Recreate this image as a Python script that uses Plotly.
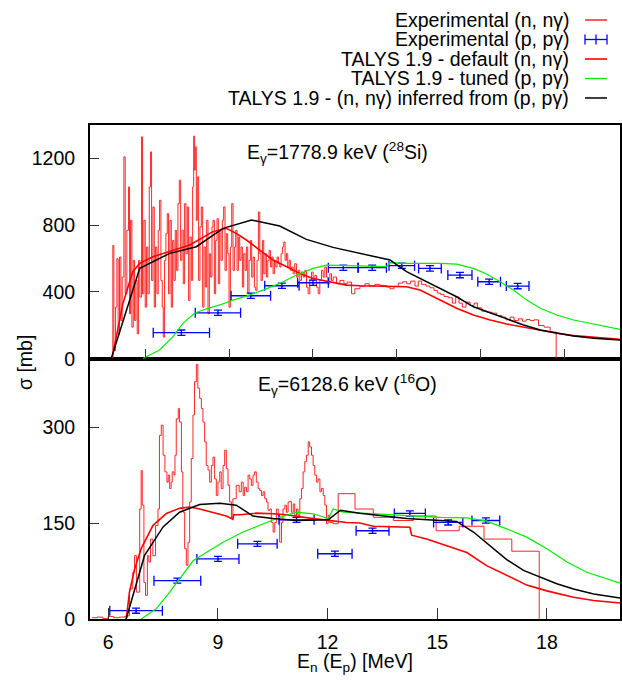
import plotly.graph_objects as go

# ---------------- data: top panel (E_gamma = 1778.9 keV, 28Si) ----------------
top_exp_E = [6.08, 6.125, 6.153, 6.20, 6.235, 6.27, 6.308, 6.345, 6.38, 6.427, 6.463, 6.509, 6.555, 6.582,
             6.61, 6.646, 6.683, 6.719, 6.756, 6.792, 6.829, 6.865, 6.911, 6.938, 6.975, 7.011, 7.048, 7.084,
             7.121, 7.157, 7.185, 7.221, 7.258, 7.294, 7.331, 7.367, 7.404, 7.44, 7.477, 7.504, 7.541, 7.577,
             7.614, 7.65, 7.687, 7.724, 7.76, 7.797, 7.833, 7.87, 7.906, 7.943, 7.98, 8.016, 8.052, 8.089,
             8.125, 8.162, 8.198, 8.235, 8.272, 8.308, 8.336, 8.363, 8.381, 8.408, 8.436, 8.472, 8.509, 8.545,
             8.582, 8.619, 8.655, 8.692, 8.728, 8.765, 8.801, 8.838, 8.865, 8.902, 8.938, 8.975, 9.011, 9.048,
             9.084, 9.121, 9.157, 9.194, 9.23, 9.267, 9.304, 9.34, 9.377, 9.413, 9.45, 9.486, 9.523, 9.559,
             9.596, 9.632, 9.669, 9.705, 9.742, 9.778, 9.815, 9.851, 9.888, 9.924, 9.961, 9.997, 10.034, 10.07,
             10.107, 10.144, 10.18, 10.217, 10.253, 10.29, 10.326, 10.363, 10.4, 10.436, 10.473, 10.509, 10.545,
             10.582, 10.618, 10.655, 10.691, 10.728, 10.764, 10.801, 10.837, 10.874, 10.91, 10.947, 10.983,
             11.02, 11.057, 11.102, 11.148, 11.194, 11.24, 11.285, 11.331, 11.377, 11.422, 11.468, 11.514,
             11.559, 11.605, 11.651, 11.696, 11.742, 11.787, 11.833, 11.879, 11.925, 11.97, 12.016, 12.062,
             12.107, 12.153, 12.244,
             12.336, 12.446, 12.537, 12.656, 12.747, 12.884, 13.021, 13.14, 13.295, 13.432, 13.615, 13.706,
             13.815, 13.934, 14.053, 14.163, 14.272, 14.391, 14.482, 14.573, 14.692, 14.802, 14.911, 15.003,
             15.094, 15.185, 15.304, 15.414, 15.505, 15.596, 15.688, 15.788, 15.898, 16.007, 16.098, 16.217,
             16.354, 16.491, 16.628, 16.765, 16.884, 16.993, 17.103, 17.222, 17.331, 17.432, 17.541, 17.651,
             17.77, 17.925, 18.089, 18.254]
top_exp_v = [5, 679, 49, 309, 599, 149, 609, 229, 489, 1209, 389, 769, 1029, 269,
             829, 189, 589, 229, 469, 149, 589, 369, 1329, 389, 829, 309, 669, 389,
             1029, 1239, 469, 909, 309, 669, 389, 769, 949, 469, 309, 129, 589, 749,
             869, 389, 829, 309, 709, 469, 769, 529, 929, 1069, 589, 769, 449, 929,
             629, 909, 349, 729, 469, 1029, 1333, 1129, 1269, 829, 1089, 469, 789, 909,
             309, 669, 429, 829, 269, 629, 489, 789, 829, 389, 709, 839, 449, 769,
             589, 829, 909, 529, 749, 629, 309, 669, 929, 529, 669, 769, 529, 729,
             589, 669, 429, 629, 529, 669, 389, 589, 709, 489, 609, 429, 409, 589,
             879, 629, 469, 709, 509, 629, 489, 589, 649, 549, 609, 509, 589,
             549, 609, 569, 549, 629, 669, 699, 589, 629, 549, 589, 529,
             549, 509, 569, 489, 529, 469, 519, 489, 529, 429, 389, 469,
             519, 469, 499, 429, 389, 469, 529, 489, 549, 489, 449, 509,
             469, 489, 449,
             469, 449, 459, 389, 419, 433, 449, 435, 445, 439, 429, 419,
             433, 453, 461, 449, 465, 435, 465, 445, 435, 425, 409, 393,
             385, 373, 365, 333, 369, 333, 309, 339, 319, 333, 305, 285,
             279, 273, 259, 249, 233, 249, 229, 239, 225, 235, 229, 233,
             199, 189, 159, 0]

top_pp_E = [8.0, 9.0, 9.9, 10.75, 11.6, 12.43, 13.22, 14.03, 14.8, 15.62, 16.42, 17.2]
top_pp_v = [156, 275, 377, 437, 455, 545, 545, 557, 541, 501, 461, 435]
top_pp_dE = [0.77, 0.62, 0.54, 0.47, 0.42, 0.41, 0.39, 0.35, 0.31, 0.33, 0.31, 0.31]
top_pp_dv = [16] * 12

top_def_E = [6.1, 6.4, 6.67, 6.86, 7.22, 7.68, 8.23, 8.86, 9.23, 9.5, 9.78, 10.14, 10.51, 10.88, 11.24,
             11.6, 12.52, 12.88, 13.25, 14.16, 14.53, 15.08, 15.53, 15.99, 16.45, 16.9, 17.36, 17.82,
             18.27, 18.73, 19.28, 20.0]
top_def_v = [0, 330, 521, 571, 611, 641, 681, 761, 781, 751, 711, 651, 591, 551, 511,
             481, 441, 437, 435, 431, 411, 351, 302, 262, 232, 208, 188, 168,
             152, 138, 128, 116]

top_tun_E = [6.95, 7.04, 7.4, 7.77, 8.04, 8.36, 8.59, 9.05, 9.41, 9.78, 10.23, 10.69, 11.15, 11.6, 11.97,
             12.52, 13.61, 13.71, 14.16, 15.08, 15.53, 15.99, 16.35, 16.72, 17.08, 17.45, 17.82, 18.27,
             18.73, 19.28, 19.64, 20.0]
top_tun_v = [0, 12, 52, 132, 212, 272, 292, 322, 351, 375, 411, 451, 501, 541, 561,
             557, 551, 575, 571, 571, 567, 541, 507, 461, 411, 351, 302, 262,
             232, 208, 192, 176]

top_inf_E = [6.08, 6.86, 7.68, 8.41, 9.14, 9.92, 10.69, 11.42, 12.15, 12.88, 13.71, 14.16, 14.62, 15.08,
             15.53, 15.99, 16.45, 16.9, 17.36, 17.82, 18.27, 18.73, 19.28, 20.0]
top_inf_v = [0, 541, 631, 671, 781, 831, 795, 715, 667, 631, 591, 521, 471, 421,
             371, 311, 275, 236, 202, 172, 152, 136, 122, 112]

# ---------------- data: bottom panel (E_gamma = 6128.6 keV, 16O) ----------------
bot_exp_E = [5.55, 5.7, 5.85, 6.0, 6.15, 6.3, 6.45,
             6.49, 6.58, 6.67, 6.72, 6.77, 6.86, 6.90, 6.93, 6.975, 7.02, 7.07, 7.11, 7.157, 7.22, 7.294,
             7.36, 7.40, 7.45, 7.50, 7.55, 7.605, 7.64, 7.68, 7.72, 7.75, 7.80, 7.825, 7.86, 7.915, 7.95,
             8.00, 8.04, 8.09, 8.135, 8.18, 8.226, 8.27, 8.317, 8.36, 8.41, 8.45, 8.50, 8.546, 8.59, 8.637,
             8.68, 8.73, 8.774, 8.82, 8.865, 8.91, 8.956, 9.00, 9.05, 9.09, 9.14, 9.185, 9.23, 9.276, 9.32,
             9.37, 9.41, 9.50, 9.58, 9.64, 9.69, 9.73, 9.78, 9.825, 9.87, 9.915, 9.96, 10.00, 10.05, 10.10,
             10.144, 10.19, 10.236, 10.28, 10.33, 10.37, 10.42, 10.46, 10.51, 10.555, 10.60, 10.65, 10.69,
             10.74, 10.78, 10.83, 10.874, 10.92, 10.97, 11.01, 11.06, 11.10, 11.15, 11.19, 11.24, 11.285,
             11.33, 11.377, 11.42, 11.47, 11.51, 11.56, 11.605, 11.65, 11.70, 11.74, 11.79, 11.83, 11.88,
             11.925, 11.97, 12.016, 12.06, 12.15, 12.29, 12.75, 13.25, 13.80, 14.35, 14.97, 15.60, 16.28,
             17.04, 17.79]
bot_exp_v = [2, 3, 1, 4, 2, 3, 4,
             5, 47, 73, 99, 42, 172, 232, 178, 57, 37, 99, 89, 125, 99, 146,
             172, 287, 303, 256, 230, 214, 225, 204, 214, 230, 225, 256, 313, 329, 308,
             230, 167, 110, 84, 120, 183, 251, 319, 371, 398, 361, 345, 329, 308, 277,
             240, 233, 214, 240, 253, 219, 193, 214, 230, 204, 240, 264, 235, 209, 183,
             157, 188, 209, 199, 214, 193, 206, 199, 225, 219, 209, 225, 230, 214, 204,
             201, 193, 199, 188, 183, 170, 172, 151, 136, 151, 172, 162, 120,
             151, 172, 178, 167, 183, 184, 167, 180, 162, 172, 162, 188, 204,
             230, 246, 256, 277, 269, 256, 240, 225, 214, 219, 199, 204, 193,
             178, 149, 162, 151, 149, 196, 172, 159, 154, 161, 138, 145, 125,
             106, 0]

bot_pp_E = [6.76, 7.89, 9.0, 10.08, 11.15, 12.2, 13.23, 14.25, 15.30, 16.33]
bot_pp_v = [13, 60, 94, 117.5, 155, 102, 138, 165, 151, 154]
bot_pp_dE = [0.72, 0.64, 0.575, 0.54, 0.48, 0.47, 0.45, 0.425, 0.40, 0.38]
bot_pp_dv = [4] * 10

bot_def_E = [6.49, 6.58, 6.72, 6.90, 7.22, 7.59, 7.95, 8.23, 8.50, 8.87, 9.23, 9.41, 9.43, 9.60, 10.05,
             10.51, 10.87, 11.61, 12.52, 12.88, 13.25, 14.25, 14.30, 14.71, 15.26, 15.81, 16.35, 16.9,
             17.45, 18.0, 18.73, 19.28, 20.0]
bot_def_v = [0, 42, 78, 110, 146, 165, 173, 175, 172, 167, 161, 156, 163, 163, 165.5,
             164.5, 163, 157, 151, 150, 145, 143.6, 131, 125, 115, 104, 83.5, 68,
             53, 44, 34, 29, 25]

bot_tun_E = [6.9, 7.31, 7.68, 7.95, 8.32, 8.68, 9.14, 9.69, 10.14, 10.69, 11.15, 11.61, 12.02, 12.15,
             12.43, 13.25, 14.16, 15.08, 15.81, 16.35, 16.9, 17.45, 18.0, 18.55, 19.09, 19.64, 20.0]
bot_tun_v = [0, 16, 42, 63, 91, 104, 120, 136, 146, 159, 167, 164.5, 157, 172,
             167, 164.5, 161, 159, 158, 153, 141, 128, 110, 89, 73, 63, 56]

bot_inf_E = [6.49, 6.72, 6.99, 7.5, 7.95, 8.5, 9.05, 9.5, 9.96, 10.51, 11.15, 12.02, 12.35, 12.88,
             13.25, 14.16, 15.08, 15.53, 15.99, 16.45, 16.9, 17.36, 17.82, 18.27, 18.73, 19.28, 20.0]
bot_inf_v = [0, 47, 99, 144, 167, 179, 181, 178, 161, 157, 154, 155, 170, 165.5,
             163, 157, 154, 152.5, 136, 114, 93, 76, 65, 55, 47, 39, 33]

x_ticks = [6, 9, 12, 15, 18]
top_x_minor = [7.02, 9.31, 11.60, 13.89, 16.18, 18.47]
top_y_ticks = [0, 400, 800, 1200]
bot_y_ticks = [0, 150, 300]

legend_labels = ["Experimental (n, nγ)", "Experimental (p, pγ)", "TALYS 1.9 - default (n, nγ)",
                 "TALYS 1.9 - tuned (p, pγ)", "TALYS 1.9 - (n, nγ) inferred from (p, pγ)"]

# ---------------- styling ----------------
RED = "#ff0000"
GREEN = "#00ee00"
BLUE = "#0000ff"
BLACK = "#000000"
FONT = "Liberation Sans, Arial, sans-serif"
FS = 19.5

W, H = 622, 680
ML, MR, MT, MB = 90, 2, 125, 61
PW, PH = W - ML - MR, H - MT - MB
split = (619 - 358.7) / PH


def px2x(px):
    return (px - ML) / PW


def py2y(py):
    return (H - MB - py) / PH


fig = go.Figure()


def add_panel(xa, ya, exp_E, exp_v, pp_E, pp_v, pp_dE, pp_dv, d_E, d_v, t_E, t_v, i_E, i_v, capy):
    fig.add_trace(go.Scatter(x=exp_E, y=exp_v, mode="lines", line=dict(color=RED, width=1, shape="hv"),
                             opacity=0.85, xaxis=xa, yaxis=ya, hoverinfo="skip"))
    fig.add_trace(go.Scatter(x=pp_E, y=pp_v, mode="markers", marker=dict(color=BLUE, size=2),
                             error_x=dict(type="data", array=pp_dE, color=BLUE, thickness=1.3, width=5),
                             error_y=dict(type="data", array=pp_dv, color=BLUE, thickness=1.3, width=capy),
                             xaxis=xa, yaxis=ya, hoverinfo="skip"))
    fig.add_trace(go.Scatter(x=d_E, y=d_v, mode="lines", line=dict(color=RED, width=1.6),
                             xaxis=xa, yaxis=ya, hoverinfo="skip"))
    fig.add_trace(go.Scatter(x=t_E, y=t_v, mode="lines", line=dict(color=GREEN, width=1.2),
                             xaxis=xa, yaxis=ya, hoverinfo="skip"))
    fig.add_trace(go.Scatter(x=i_E, y=i_v, mode="lines", line=dict(color=BLACK, width=1.5),
                             xaxis=xa, yaxis=ya, hoverinfo="skip"))


add_panel("x2", "y2", top_exp_E, top_exp_v, top_pp_E, top_pp_v, top_pp_dE, top_pp_dv,
          top_def_E, top_def_v, top_tun_E, top_tun_v, top_inf_E, top_inf_v, 4)
add_panel("x", "y", bot_exp_E, bot_exp_v, bot_pp_E, bot_pp_v, bot_pp_dE, bot_pp_dv,
          bot_def_E, bot_def_v, bot_tun_E, bot_tun_v, bot_inf_E, bot_inf_v, 4)

axis_common = dict(showline=True, linecolor="black", linewidth=2, mirror=True, ticks="inside",
                   tickcolor="#333333", tickwidth=1, showgrid=False, zeroline=False,
                   tickfont=dict(family=FONT, size=FS, color="black"))

fig.update_layout(
    width=W, height=H,
    margin=dict(l=ML, r=MR, t=MT, b=MB, autoexpand=False),
    paper_bgcolor="white", plot_bgcolor="white",
    showlegend=False,
    font=dict(family=FONT, size=FS, color="black"),
    xaxis=dict(domain=[0, 1], range=[5.5, 20], anchor="y", tickvals=x_ticks, ticklen=11,
               ticklabelstandoff=5, **axis_common),
    yaxis=dict(domain=[0, split], range=[0, 407], anchor="x", tickvals=bot_y_ticks, ticklen=9,
               ticklabelstandoff=9, **axis_common),
    xaxis2=dict(domain=[0, 1], range=[5.5, 20], anchor="y2", tickvals=top_x_minor, ticklen=10,
                showticklabels=False, **axis_common),
    yaxis2=dict(domain=[split, 1], range=[0, 1400], anchor="x2", tickvals=top_y_ticks, ticklen=9,
                ticklabelstandoff=9, **axis_common),
)

annotations = []
shapes = []
# axis titles
annotations.append(dict(text="E<sub>n</sub> (E<sub>p</sub>) [MeV]", xref="paper", yref="paper",
                        x=px2x(355), y=py2y(662), xanchor="center", yanchor="middle", showarrow=False,
                        font=dict(family=FONT, size=FS)))
annotations.append(dict(text="σ [mb]", xref="paper", yref="paper", x=px2x(25), y=py2y(363),
                        xanchor="center", yanchor="middle", textangle=-90, showarrow=False,
                        font=dict(family=FONT, size=FS)))
# panel labels
annotations.append(dict(text="E<sub>γ</sub>=1778.9 keV (<sup>28</sup>Si)", xref="paper", yref="paper",
                        x=px2x(245), y=py2y(152), xanchor="left", yanchor="middle", showarrow=False,
                        font=dict(family=FONT, size=FS)))
annotations.append(dict(text="E<sub>γ</sub>=6128.6 keV (<sup>16</sup>O)", xref="paper", yref="paper",
                        x=px2x(256), y=py2y(384), xanchor="left", yanchor="middle", showarrow=False,
                        font=dict(family=FONT, size=FS)))

# manual legend (text right-aligned, sample to the right)
rows = [20, 39.5, 59, 78.5, 98]
colors = [RED, BLUE, RED, GREEN, BLACK]
widths = [1, 1.3, 1.6, 1.2, 1.5]
for lbl, py, c, w in zip(legend_labels, rows, colors, widths):
    annotations.append(dict(text=lbl, xref="paper", yref="paper", x=px2x(571), y=py2y(py),
                            xanchor="right", yanchor="middle", showarrow=False,
                            font=dict(family=FONT, size=FS)))
    shapes.append(dict(type="line", xref="paper", yref="paper", x0=px2x(585), x1=px2x(607),
                       y0=py2y(py), y1=py2y(py), line=dict(color=c, width=max(w, 1.3))))
# error-bar legend sample ticks
for pxc in (585, 596, 607):
    shapes.append(dict(type="line", xref="paper", yref="paper", x0=px2x(pxc), x1=px2x(pxc),
                       y0=py2y(rows[1] - 5), y1=py2y(rows[1] + 5), line=dict(color=BLUE, width=1.3)))

fig.update_layout(annotations=annotations, shapes=shapes)

fig.write_html("out.html", config={"displayModeBar": False},
               post_script="document.body.style.margin='0px';document.body.style.overflow='hidden';")
